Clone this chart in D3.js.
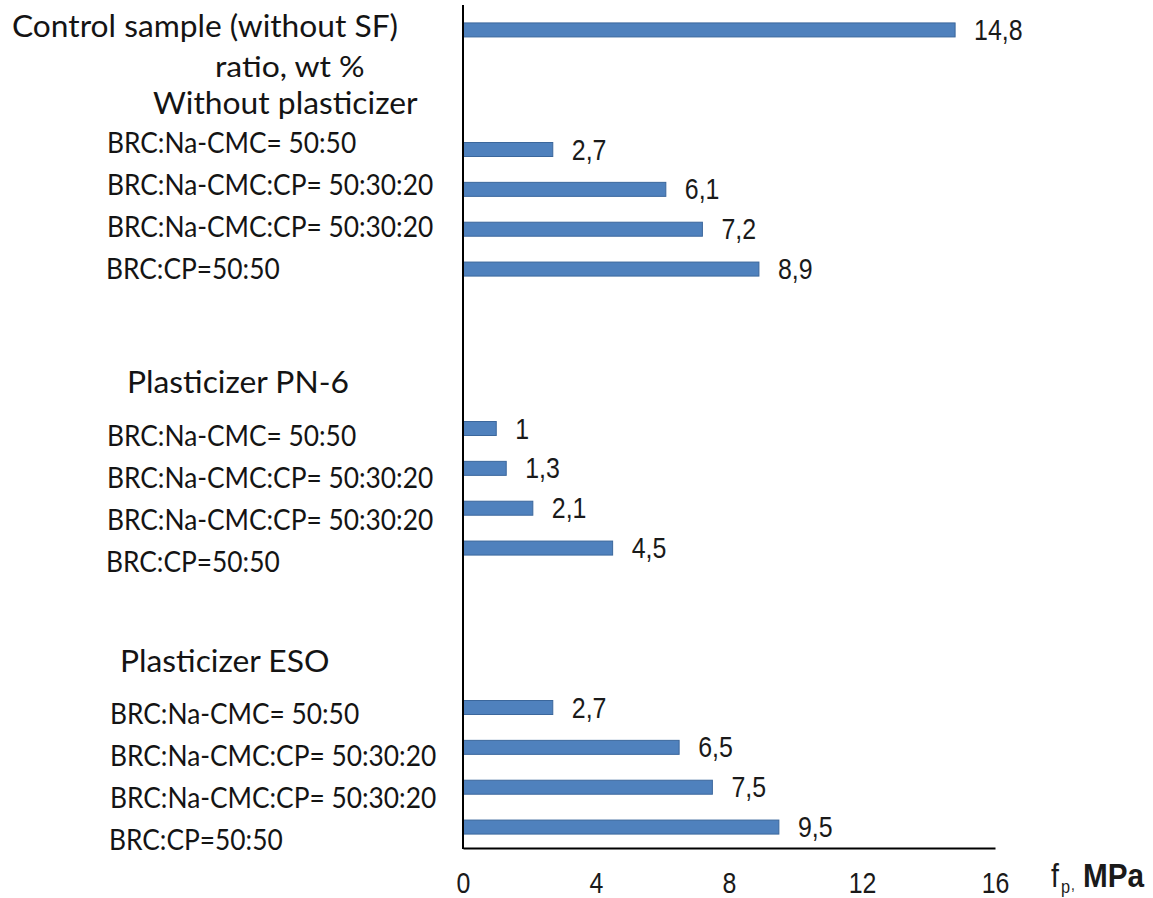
<!DOCTYPE html>
<html>
<head>
<meta charset="utf-8">
<script src="https://cdn.jsdelivr.net/npm/d3@7"></script>
<style>
  html, body { margin: 0; padding: 0; background: #ffffff; }
  svg { display: block; }
</style>
</head>
<body>
<script>
// Tensile strength of film samples, MPa
const controlLabel = "Control sample (without SF)";
const controlValue = 14.8;
const ratioCaption = "ratio, wt %";
const groupNames = ["Without plasticizer", "Plasticizer PN-6", "Plasticizer ESO"];
const compositions = ["BRC:Na-CMC= 50:50", "BRC:Na-CMC:CP= 50:30:20", "BRC:Na-CMC:CP= 50:30:20", "BRC:CP=50:50"];
const withoutPlasticizer = [2.7, 6.1, 7.2, 8.9];
const plasticizerPN6 = [1, 1.3, 2.1, 4.5];
const plasticizerESO = [2.7, 6.5, 7.5, 9.5];
const xTicks = [0, 4, 8, 12, 16];

const groupValues = [withoutPlasticizer, plasticizerPN6, plasticizerESO];

const W = 1153, H = 898;
const svg = d3.select("body").append("svg").attr("width", W).attr("height", H);

// Row layout: control bar, two spacer rows, then each group of four with three spacer rows between
const rows = ["control", "gap-0a", "gap-0b"];
groupValues.forEach((vals, g) => {
  if (g > 0) rows.push(`gap-${g}a`, `gap-${g}b`, `gap-${g}c`);
  vals.forEach((v, i) => rows.push(`g${g}-${i}`));
});

const y = d3.scalePoint().domain(rows).range([10, 847]).padding(0.5);
const x = d3.scaleLinear().domain([0, 16]).range([463, 995]);

const bars = [{ key: "control", value: controlValue, g: -1, i: 0 }];
groupValues.forEach((vals, g) => vals.forEach((v, i) => bars.push({ key: `g${g}-${i}`, value: v, g, i })));

const fmt = d3.formatLocale({ decimal: ",", thousands: " ", grouping: [3], currency: ["", ""] }).format(".2~f");

const barH = 14;
const narrowFont = "'Liberation Sans', Arial, sans-serif";
const narrowScale = 0.86;
const labelFont = "Lato, 'Noto Sans', sans-serif";

// Bars
svg.append("g").selectAll("rect").data(bars).join("rect")
  .attr("x", x(0))
  .attr("y", d => y(d.key) - barH / 2)
  .attr("width", d => x(d.value) - x(0))
  .attr("height", barH)
  .attr("fill", "#4f81bd")
  .attr("stroke", "#3b679c")
  .attr("stroke-width", 1);

// Value labels
svg.append("g").selectAll("text").data(bars).join("text")
  .attr("transform", d => `translate(${x(d.value) + 19},${y(d.key) + 10}) scale(${narrowScale},1)`)
  .attr("font-family", narrowFont)
  .attr("font-size", 29)
  .attr("fill", "#1a1a1a")
  .text(d => fmt(d.value));

// Axes
const xAxis = svg.append("g")
  .attr("transform", `translate(0,848)`)
  .call(d3.axisBottom(x).tickValues(xTicks).tickSize(0).tickSizeOuter(0));
xAxis.select(".domain").attr("stroke", "#000").attr("stroke-width", 2);
xAxis.selectAll(".tick text")
  .attr("y", 45).attr("dy", 0)
  .attr("transform", `scale(${narrowScale},1)`)
  .attr("font-family", narrowFont)
  .attr("font-size", 29)
  .attr("fill", "#1a1a1a");

svg.append("line")
  .attr("x1", x(0)).attr("x2", x(0))
  .attr("y1", 5).attr("y2", 849)
  .attr("stroke", "#000").attr("stroke-width", 2);

// Axis title: f_p, MPa
const title = svg.append("g").attr("font-family", narrowFont).attr("fill", "#1a1a1a");
title.append("text").attr("transform", `translate(1051,887) scale(${narrowScale},1)`).attr("font-size", 33).text("f");
title.append("text").attr("transform", `translate(1061,893) scale(${narrowScale},1)`).attr("font-size", 19).text("p");
title.append("text").attr("transform", `translate(1071,890) scale(${narrowScale},1)`).attr("font-size", 16).text(",");
title.append("text").attr("transform", `translate(1083,887) scale(0.9,1)`).attr("font-size", 33).attr("font-weight", "bold").text("MPa");

// Left-hand category labels
const left = svg.append("g").attr("font-family", labelFont).attr("fill", "#141414");
function leftText(tx, ty, size, sx, str) {
  left.append("text")
    .attr("transform", `translate(${tx},${ty}) scale(${sx},1)`)
    .attr("font-size", size)
    .text(str);
}

leftText(12, y("control") + 7, 30.5, 1.04, controlLabel);
leftText(215, y("g0-0") - 73, 29, 1.1, ratioCaption);

const headerX = [153, 127, 120];
const rowX = [107, 107, 110];
const rowShift = [3, 17, 16];
groupNames.forEach((name, g) => {
  leftText(headerX[g], y(`g${g}-0`) - 36, 30, 1.06, name);
  compositions.forEach((c, i) => {
    const dx = c.startsWith("BRC:CP") ? -1 : 0;
    leftText(rowX[g] + dx, y(`g${g}-${i}`) + rowShift[g] + i * 2.3, 28, 0.94, c);
  });
});
</script>
</body>
</html>
